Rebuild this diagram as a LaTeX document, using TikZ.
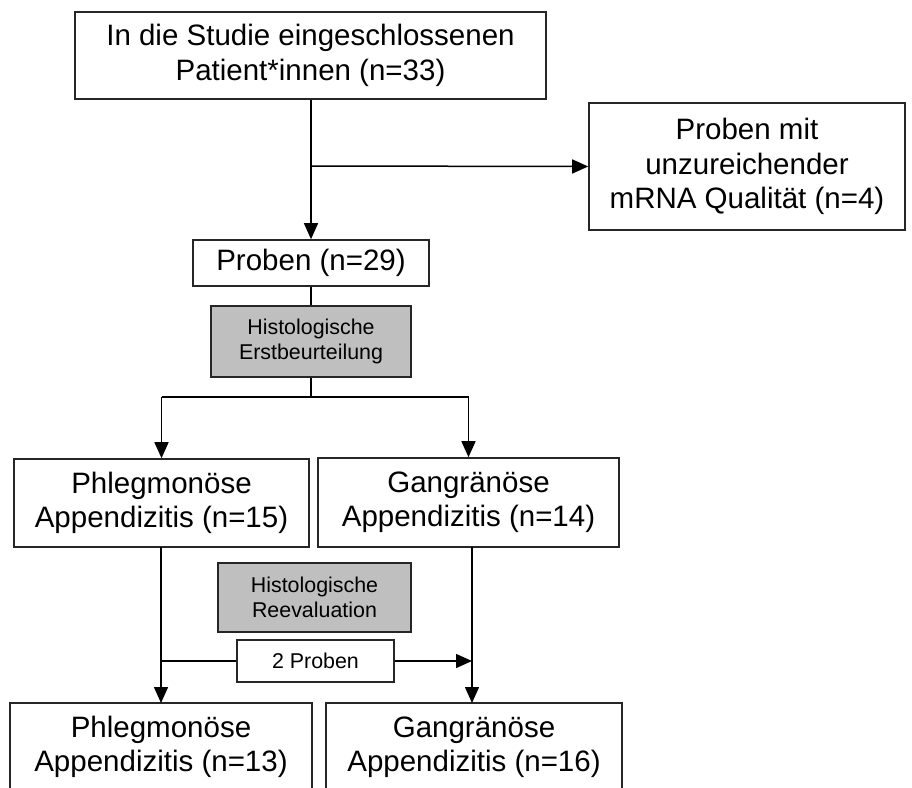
\documentclass[tikz,border=0pt]{standalone}
\usepackage{fontspec}
\setmainfont{Liberation Sans}
\usetikzlibrary{arrows.meta}
\begin{document}
\begin{tikzpicture}[x=1pt,y=-1pt,
  box/.style={draw=black!85, line width=1.6pt, fill=white, inner sep=0pt, align=center,
    font=\fontsize{29.5}{34.5}\selectfont},
  gbox/.style={draw=black!85, line width=1.6pt, fill=gray!50, inner sep=0pt, align=center,
    font=\fontsize{21.4}{24.5}\selectfont},
  sbox/.style={draw=black!85, line width=1.6pt, fill=white, inner sep=0pt, align=center,
    font=\fontsize{21.4}{24.5}\selectfont},
  ln/.style={line width=1.5pt, draw=black},
  arr/.style={ln, -{Triangle[length=16pt,width=14pt]}}
]
\useasboundingbox (0,0) rectangle (912,787);

% nodes
\node[box, minimum width=471pt, minimum height=87pt] (top) at (310.5,55.5)
  {In die Studie eingeschlossenen\\Patient*innen (n=33)};
\node[box, minimum width=316pt, minimum height=127pt] (excl) at (747,166.5)
  {Proben mit\\unzureichender\\mRNA Qualität (n=4)};
\node[box, minimum width=236pt, minimum height=46pt] (proben) at (311,263)
  {Proben (n=29)};
\node[gbox, minimum width=200pt, minimum height=71pt] (histo1) at (311,341.5)
  {Histologische\\Erstbeurteilung};
\node[box, minimum width=295pt, minimum height=88pt] (phl1) at (161.5,503)
  {Phlegmonöse\\Appendizitis (n=15)};
\node[box, minimum width=301pt, minimum height=89pt] (gan1) at (468.5,502.5)
  {Gangränöse\\Appendizitis (n=14)};
\node[gbox, minimum width=193pt, minimum height=69pt] (histo2) at (314.5,597.5)
  {Histologische\\Reevaluation};
\node[sbox, minimum width=157pt, minimum height=42pt] (two) at (315.5,661)
  {2 Proben};
\node[box, minimum width=302pt, minimum height=88pt] (phl2) at (161,747)
  {Phlegmonöse\\Appendizitis (n=13)};
\node[box, minimum width=296pt, minimum height=88pt] (gan2) at (474,747)
  {Gangränöse\\Appendizitis (n=16)};

% junction coordinates
\coordinate (j1) at (311,166);
\coordinate (j2) at (311,397);
\coordinate (jl) at (161.5,397);
\coordinate (jr) at (468.5,397);
\coordinate (pl) at (161,547);
\coordinate (pr) at (472,547);
\coordinate (hl) at (161,661);
\coordinate (hr) at (472,661);
\coordinate (bl) at (161,703);
\coordinate (br) at (472,703);

% connectors
\draw[arr] (top.south -| proben.north) -- (proben.north);
\draw[arr] (j1) -- (excl.west);
\draw[ln] (proben.south) -- (histo1.north);
\draw[ln] (histo1.south) -- (j2);
\draw[ln] (jl) -- (jr);
\draw[arr] (jl) -- (phl1.north);
\draw[arr] (jr) -- (gan1.north);
\draw[arr] (pl) -- (bl);
\draw[arr] (pr) -- (br);
\draw[ln] (hl) -- (two.west);
\draw[arr] (two.east) -- (hr);
\end{tikzpicture}
\end{document}
